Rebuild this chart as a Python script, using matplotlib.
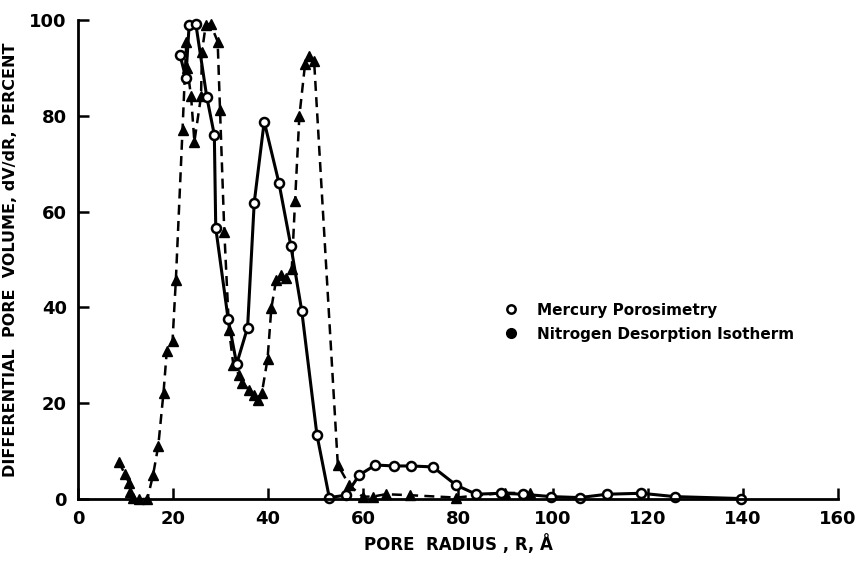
import matplotlib
matplotlib.use("Agg")
import matplotlib.pyplot as plt
from matplotlib.lines import Line2D

# Mercury porosimetry (open circles, solid line)
hg_r = [21.5, 22.7, 23.4, 24.8, 27.1, 28.7, 29.0, 31.6, 33.4, 35.7, 37.1, 39.2,
        42.3, 44.8, 47.1, 50.3, 52.9, 56.4, 59.2, 62.6, 66.5, 70.1, 74.7, 79.6,
        83.8, 89.0, 93.7, 99.6, 105.6, 111.4, 118.6, 125.6, 139.5]
hg_v = [92.6, 87.9, 99.0, 99.2, 84.0, 76.0, 56.6, 37.6, 28.2, 35.8, 61.9, 78.8,
        66.0, 52.9, 39.3, 13.4, 0.3, 0.8, 5.0, 7.1, 6.9, 6.9, 6.7, 2.9,
        1.0, 1.2, 1.0, 0.5, 0.3, 1.0, 1.2, 0.5, 0.1]

# Nitrogen desorption isotherm (filled triangles, dashed line)
n2_r = [8.6, 9.8, 10.8, 11.0, 11.5, 12.9, 14.6, 15.8, 16.9, 18.0, 18.7, 19.9,
        20.6, 22.0, 22.8, 23.0, 23.8, 24.5, 25.9, 26.1, 26.9, 27.9, 29.4, 29.9,
        30.8, 31.8, 32.7, 33.9, 34.6, 36.0, 37.1, 37.9, 38.7, 39.9, 40.7, 41.7,
        42.7, 43.8, 45.0, 45.7, 46.6, 47.8, 48.7, 49.7, 54.7, 57.1, 59.9, 62.0,
        64.8, 69.8, 79.6, 89.8, 95.1]
n2_v = [7.8, 5.3, 3.3, 1.5, 0.3, 0.0, 0.0, 5.0, 11.1, 22.2, 31.0, 33.0,
        45.7, 77.0, 95.5, 89.9, 84.1, 74.6, 84.1, 93.4, 99.0, 99.2, 95.5, 81.2,
        55.8, 35.3, 28.0, 25.9, 24.2, 22.8, 21.7, 20.7, 22.1, 29.2, 39.8, 45.7,
        46.8, 46.1, 48.0, 62.3, 79.9, 90.8, 92.5, 91.5, 7.1, 2.9, 0.5, 0.5,
        1.0, 0.8, 0.3, 1.3, 1.2]

x_ticks = [0, 20, 40, 60, 80, 100, 120, 140, 160]
y_ticks = [0, 20, 40, 60, 80, 100]

plt.rcParams['font.family'] = ['DejaVu Sans']
plt.rcParams['font.weight'] = 'bold'

fig = plt.figure(figsize=(8.59, 5.61), dpi=100)
ax = fig.add_axes([0.0908, 0.1105, 0.8848, 0.8538])

ax.plot(n2_r, n2_v, color='black', lw=1.8, ls=(0, (4, 2.5)), marker='^',
        markersize=7, markerfacecolor='black', markeredgecolor='black', clip_on=False)
ax.plot(hg_r, hg_v, color='black', lw=2.2, marker='o', markersize=6.5,
        markerfacecolor='white', markeredgecolor='black', markeredgewidth=1.8,
        clip_on=False)

ax.set_xlim(0, 160)
ax.set_ylim(0, 100)
ax.set_xticks(x_ticks)
ax.set_yticks(y_ticks)
ax.set_xticklabels([str(t) for t in x_ticks], fontsize=13, fontweight='bold')
ax.set_yticklabels([str(t) for t in y_ticks], fontsize=13, fontweight='bold')
ax.tick_params(direction='in', length=8, width=1.8, pad=8)
ax.spines['top'].set_visible(False)
ax.spines['right'].set_visible(False)
ax.spines['left'].set_linewidth(2)
ax.spines['bottom'].set_linewidth(2)

ax.set_xlabel('PORE  RADIUS , R, Å', fontsize=12, fontweight='bold', labelpad=4)
ax.set_ylabel('DIFFERENTIAL  PORE  VOLUME, dV/dR, PERCENT', fontsize=11.5,
              fontweight='bold', labelpad=8)

handles = [
    Line2D([], [], ls='none', marker='o', markersize=6, markerfacecolor='white',
           markeredgecolor='black', markeredgewidth=1.8),
    Line2D([], [], ls='none', marker='o', markersize=7, markerfacecolor='black',
           markeredgecolor='black'),
]
ax.legend(handles, ['Mercury Porosimetry', 'Nitrogen Desorption Isotherm'],
          loc='upper left', bbox_to_anchor=(0.56, 0.41), frameon=False,
          prop={'size': 11, 'weight': 'bold'}, handlelength=1.0,
          handletextpad=1.2, borderpad=0, borderaxespad=0, labelspacing=0.6)

fig.savefig('out.png', dpi=100)
